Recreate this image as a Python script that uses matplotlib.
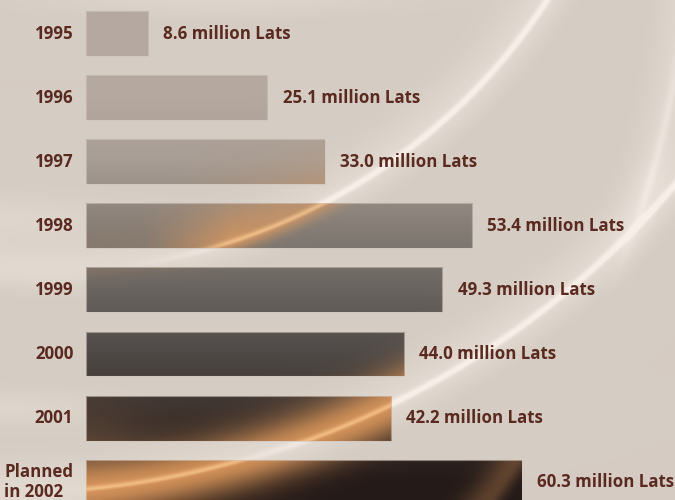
import numpy as np
import matplotlib.pyplot as plt

# data
years = ["1995", "1996", "1997", "1998", "1999", "2000", "2001", "Planned\nin 2002"]
amounts = [8.6, 25.1, 33.0, 53.4, 49.3, 44.0, 42.2, 60.3]

W, H = 675, 500          # output size in px
X0 = 86.0                # px where bars start
PX = 7.23                # px per million Lats
ROW = 64.1               # px between bar centres
TOP = 33.5               # px of first bar centre
TEXT = "#5a2a20"
FONT = "Open Sans"
FS = 12.2

xlim = (-X0 / PX, (W - X0) / PX)
ylim = ((H - TOP) / ROW, -TOP / ROW)
extent = (xlim[0], xlim[1], ylim[0], ylim[1])

# pixel grid for the decorative textures
X, Y = np.meshgrid(np.arange(W) + 0.5, np.arange(H) + 0.5)


def arc_dist(cx, cy, r):
    # signed distance to a circle, negative inside
    return np.hypot(X - cx, Y - cy) - r


def glow(d, s_in, s_out):
    s = np.where(d < 0, s_in, s_out)
    return np.exp(-(d / s) ** 2)


def blob(cx, cy, sx, sy):
    return np.exp(-((X - cx) / sx) ** 2 - ((Y - cy) / sy) ** 2)


d1 = arc_dist(48, -325, 596)
d2 = arc_dist(7, -386, 879)
d3 = arc_dist(-300, -100, 991)

fade1 = np.clip((X - 120) / 200, 0, 1)
fade2 = np.clip((X - 180) / 200, 0, 1)
fade3 = np.clip((300 - Y) / 120, 0, 1) * np.clip((X - 560) / 60, 0, 1)

# background: beige with pale light streaks
bg = np.ones((H, W, 3)) * np.array([213, 204, 195]) / 255
white = (0.75 * glow(d1, 4, 3) * fade1 + 0.35 * glow(d1, 30, 18)
         + 0.75 * glow(d2, 4, 3) * fade2 + 0.35 * glow(d2, 30, 18)
         + 0.3 * glow(d3, 5, 4) * fade3 + 0.3 * glow(d3, 24, 16) * fade3
         + 0.25 * blob(0, 218, 140, 22) + 0.25 * blob(0, 408, 120, 18)
         + 0.25 * blob(220, 0, 170, 14))
white = np.clip(white, 0, 0.95)[..., None]
bg = bg * (1 - white) + np.array([248, 240, 233]) / 255 * white

# bar texture: light taupe at top, dark brown at bottom, with amber arcs
ys = [33, 97, 161, 225, 290, 354, 418, 482]
cols = np.array([[181, 169, 161], [180, 168, 159], [168, 157, 148], [134, 126, 119],
                 [106, 100, 96], [78, 73, 70], [58, 47, 42], [36, 26, 24]]) / 255
tex = np.stack([np.interp(Y, ys, cols[:, k]) for k in range(3)], axis=-1)
# lighter, browner left end on the dark rows
left = (np.exp(-((X - 86) / 60) ** 2) * np.clip((Y - 380) / 60, 0, 1))[..., None]
tex = tex * (1 - 0.4 * left) + np.array([125, 95, 72]) / 255 * 0.4 * left

amber = np.clip(0.75 * glow(d1, 50, 10) * np.clip((X - 130) / 100, 0.15, 1)
                + 0.9 * glow(d2, 30, 28) + 0.3 * glow(d3, 20, 10), 0, 1)
# amber is weaker on the pale rows
amber = (amber * np.clip((Y - 120) / 120, 0.25, 1))[..., None]
tex = tex * (1 - amber) + np.array([226, 156, 94]) / 255 * amber
core = np.clip(0.7 * glow(d1, 3, 2) * np.clip((X - 150) / 80, 0, 1)
               + 0.7 * glow(d2, 3, 2), 0, 1)[..., None]
tex = tex * (1 - core) + np.array([255, 206, 150]) / 255 * core

fig = plt.figure(figsize=(6.75, 5), dpi=100)
ax = fig.add_axes([0, 0, 1, 1])
ax.imshow(np.clip(bg, 0, 1), extent=extent, aspect="auto", zorder=0)

pos = np.arange(len(years))
bars = ax.barh(pos, amounts, height=0.70, left=0, color="none",
               edgecolor=(0.82, 0.77, 0.73, 0.6), linewidth=0.8, zorder=3)
for b in bars:
    im = ax.imshow(np.clip(tex, 0, 1), extent=extent, aspect="auto", zorder=2)
    im.set_clip_path(b)

for p, v in zip(pos, amounts):
    ax.text(v + 2.1, p, f"{v:.1f} million Lats", ha="left", va="center",
            color=TEXT, fontsize=FS, fontweight="bold", family=FONT)

for p, lab in zip(pos, years):
    ax.text(-1.75, p, lab, ha="right", va="center", multialignment="left",
            linespacing=1.15, color=TEXT, fontsize=FS, fontweight="bold", family=FONT)

ax.set_xlim(xlim)
ax.set_ylim(ylim)
ax.axis("off")

fig.savefig("out.png", dpi=100)
